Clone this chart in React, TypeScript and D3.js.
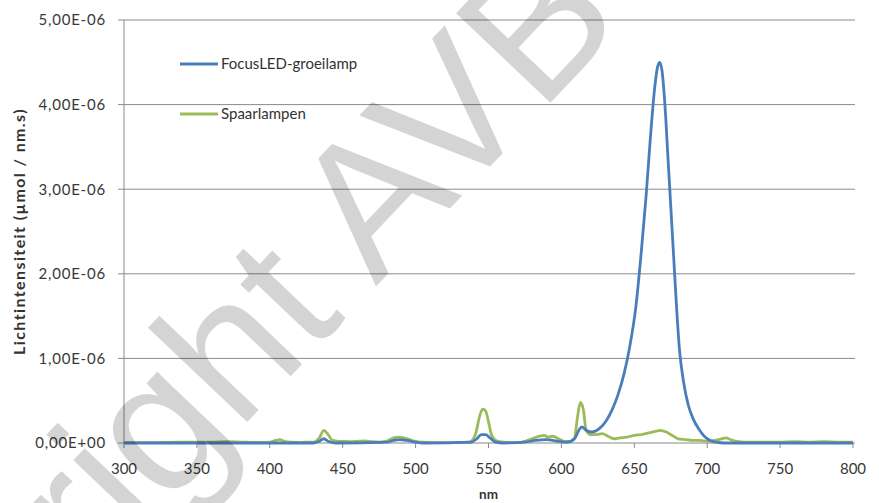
import React from 'react';
import * as d3 from 'd3';

// golflengte (nm) en intensiteit (x 1e-6 µmol / nm.s)
const ledNm = [300, 350, 400, 430, 434, 437, 440, 445, 480, 485, 489, 494, 500, 505, 538, 542, 545, 548, 551, 555, 560, 575, 582, 590, 598, 604, 609, 612, 614, 617, 621, 626, 631, 635, 639, 643, 647, 651, 655, 658, 661, 664, 666, 667.5, 669, 671, 673, 675, 677, 679, 681, 684, 687, 690, 694, 698, 702, 706, 712, 750, 800];
const ledValues = [0, 0, 0, 0, 0.02, 0.05, 0.02, 0, 0.01, 0.03, 0.04, 0.03, 0.01, 0, 0.01, 0.05, 0.1, 0.1, 0.06, 0.01, 0, 0.01, 0.03, 0.04, 0.02, 0.01, 0.05, 0.15, 0.19, 0.15, 0.13, 0.17, 0.27, 0.4, 0.58, 0.82, 1.15, 1.6, 2.3, 2.9, 3.6, 4.2, 4.45, 4.5, 4.4, 4.0, 3.4, 2.8, 2.2, 1.6, 1.1, 0.7, 0.45, 0.3, 0.17, 0.08, 0.03, 0.01, 0, 0, 0];

const spaarNm = [300, 320, 340, 350, 360, 370, 380, 395, 400, 404, 407, 410, 415, 420, 425, 430, 434, 437, 440, 443, 447, 452, 456, 460, 465, 470, 475, 480, 485, 488, 492, 496, 500, 505, 510, 520, 530, 537, 541, 544, 546, 548, 550, 552, 555, 560, 570, 575, 580, 585, 588, 591, 594, 598, 602, 606, 609, 611, 613, 615, 617, 620, 624, 628, 632, 636, 640, 645, 650, 655, 660, 665, 668, 672, 676, 680, 685, 690, 695, 700, 705, 710, 713, 716, 720, 730, 740, 750, 760, 770, 780, 790, 800];
const spaarValues = [0.005, 0.005, 0.01, 0.01, 0.01, 0.015, 0.01, 0.005, 0.01, 0.03, 0.04, 0.02, 0.01, 0.005, 0.01, 0.01, 0.06, 0.15, 0.1, 0.03, 0.02, 0.02, 0.015, 0.02, 0.025, 0.015, 0.01, 0.02, 0.06, 0.07, 0.06, 0.04, 0.02, 0.01, 0.005, 0.005, 0.005, 0.01, 0.1, 0.32, 0.4, 0.38, 0.25, 0.1, 0.03, 0.01, 0.005, 0.02, 0.05, 0.08, 0.09, 0.07, 0.08, 0.05, 0.02, 0.02, 0.06, 0.3, 0.48, 0.4, 0.15, 0.1, 0.1, 0.11, 0.08, 0.05, 0.06, 0.07, 0.09, 0.1, 0.12, 0.14, 0.15, 0.13, 0.09, 0.05, 0.04, 0.03, 0.03, 0.02, 0.03, 0.05, 0.06, 0.04, 0.02, 0.01, 0.01, 0.01, 0.015, 0.01, 0.015, 0.01, 0.01];

const xTicks = [300, 350, 400, 450, 500, 550, 600, 650, 700, 750, 800];
const yTicks = [0, 1, 2, 3, 4, 5];
const yTickLabels = ['0,00E+00', '1,00E-06', '2,00E-06', '3,00E-06', '4,00E-06', '5,00E-06'];
const seriesNames = ['FocusLED-groeilamp', 'Spaarlampen'];
const seriesColors = ['#4a7ebb', '#9bbb59'];

const W = 879;
const H = 503;
const margin = { top: 20, right: 26, bottom: 60, left: 124 };
const font = 'Lato, "Open Sans", sans-serif';

export default function App() {
  const x = d3.scaleLinear().domain([300, 800]).range([margin.left, W - margin.right]);
  const y = d3.scaleLinear().domain([0, 5]).range([H - margin.bottom, margin.top]);

  const line = d3
    .line<[number, number]>()
    .x((d) => x(d[0]))
    .y((d) => y(d[1]))
    .curve(d3.curveMonotoneX);

  const ledPath = line(ledNm.map((n, i) => [n, ledValues[i]]));
  const spaarPath = line(spaarNm.map((n, i) => [n, spaarValues[i]]));

  return (
    <svg width={W} height={H} style={{ position: 'absolute', left: 0, top: 0, background: '#fff' }}>
      {/* rasterlijnen en y-as */}
      {yTicks.map((t, i) => (
        <g key={t}>
          <line x1={margin.left - 6} x2={x(800) + 2} y1={y(t)} y2={y(t)} stroke="#8a8a8a" strokeWidth={1} />
          <text x={106} y={y(t)} dy="0.36em" textAnchor="end" fontFamily={font} fontSize={15} letterSpacing={0.8} fill="#383838">
            {yTickLabels[i]}
          </text>
        </g>
      ))}
      <line x1={margin.left} x2={margin.left} y1={y(5)} y2={y(0)} stroke="#8a8a8a" strokeWidth={1} />
      {xTicks.map((t) => (
        <g key={t}>
          <line x1={x(t)} x2={x(t)} y1={y(0)} y2={y(0) + 5} stroke="#8a8a8a" />
          <text x={x(t)} y={469} dy="0.36em" textAnchor="middle" fontFamily={font} fontSize={15} fill="#383838">
            {t}
          </text>
        </g>
      ))}
      <text x={(x(300) + x(800)) / 2} y={499} textAnchor="middle" fontFamily={font} fontSize={13.5} fontWeight="bold" fill="#333">
        nm
      </text>
      <text
        transform={`translate(25,${(y(0) + y(5)) / 2}) rotate(-90)`}
        textAnchor="middle"
        fontFamily={font}
        fontSize={16}
        letterSpacing={1.4}
        fontWeight="bold"
        fill="#333"
      >
        Lichtintensiteit (µmol / nm.s)
      </text>

      <path d={spaarPath || ''} fill="none" stroke={seriesColors[1]} strokeWidth={2.8} strokeLinejoin="round" />
      <path d={ledPath || ''} fill="none" stroke={seriesColors[0]} strokeWidth={2.8} strokeLinejoin="round" />

      {/* legenda */}
      {seriesNames.map((name, i) => (
        <g key={name} transform={`translate(180,${64 + i * 50})`}>
          <line x1={0} x2={38} y1={0} y2={0} stroke={seriesColors[i]} strokeWidth={2.8} />
          <text x={41} y={0} dy="0.36em" fontFamily={font} fontSize={15} fill="#333">
            {name}
          </text>
        </g>
      ))}

      {/* watermerk */}
      <text
        transform="translate(-210,904) rotate(-46.5)"
        fontFamily='"Liberation Sans", Arial, sans-serif'
        fontSize={189}
        fill="#000"
        fillOpacity={0.17}
      >
        Copyright AVB
      </text>
    </svg>
  );
}
